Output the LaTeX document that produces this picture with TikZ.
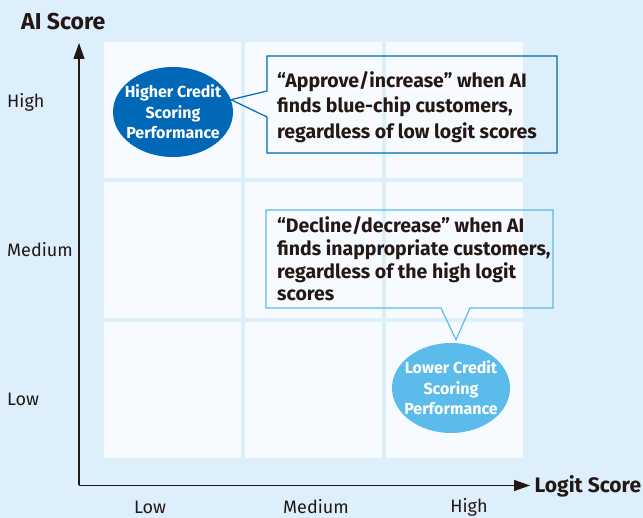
\documentclass[tikz,border=0pt]{standalone}
\usepackage{fontspec}
\setmainfont{Fira Sans}
\usetikzlibrary{arrows.meta,shapes.geometric,calc}
\definecolor{bgc}{RGB}{221,239,251}
\definecolor{cellc}{RGB}{247,251,255}
\definecolor{darkb}{RGB}{0,104,183}
\definecolor{lightb}{RGB}{91,188,235}
\definecolor{txt}{RGB}{35,24,21}
\tikzset{
  cell/.style={fill=cellc},
  axis/.style={draw=txt,line width=1.1pt,-{Triangle[length=16pt,width=11pt]}},
  tick/.style={text=txt,font=\fontsize{18}{20}\selectfont,inner sep=0pt},
  axtitle/.style={text=txt,font=\bfseries\fontsize{21}{24}\selectfont,inner sep=0pt},
  blob/.style={ellipse,minimum width=120pt,minimum height=90pt,inner sep=0pt},
  blobtext/.style={text=white,font=\bfseries\fontsize{16}{20.5}\selectfont,align=center,inner sep=0pt},
  note/.style={text=txt,font=\bfseries\fontsize{19.5}{25.7}\selectfont,align=left,inner sep=0pt,anchor=north west},
}
\begin{document}
\begin{tikzpicture}[x=1pt,y=-1pt]
\fill[bgc] (0,0) rectangle (643,518);
\useasboundingbox (0,0) rectangle (643,518);
% cells
\foreach \cx in {104,245,386}{
  \foreach \cy in {42,182,322}{
    \fill[cell] (\cx,\cy) rectangle ++(137,136.5);
  }
}
% axes
\coordinate (origin) at (79,485.5);
\coordinate (ytip) at (79,43);
\coordinate (xtip) at (530,485.5);
\draw[axis] (origin) -- (ytip);
\draw[axis] (origin) -- (xtip);
\node[axtitle,anchor=base west,font=\bfseries\fontsize{23}{24}\selectfont] (ai) at (21,30) {AI Score};
\node[axtitle,anchor=base west] (logit) at (534.5,493) {Logit Score};
% tick labels
\node[tick,anchor=west] (yh) at (7,102) {High};
\node[tick,anchor=west] (ym) at (7,250) {Medium};
\node[tick,anchor=west] (yl) at (7,399) {Low};
\node[tick] (xl) at (150,507) {Low};
\node[tick] (xm) at (316,507) {Medium};
\node[tick] (xh) at (469,507) {High};
% ellipses
\node[blob,fill=darkb] (hi) at (173,112) {};
\node[blobtext] (hit) at (hi) {Higher Credit\\Scoring\\Performance};
\node[blob,fill=lightb,minimum width=118pt] (lo) at (451,388) {};
\node[blobtext] (lot) at (lo) {Lower Credit\\Scoring\\Performance};
% callout 1
\coordinate (b1nw) at (267,56);
\coordinate (b1se) at (557,153);
\coordinate (t1) at (hi.12);
\draw[darkb,line width=1.2pt,line join=miter]
  (b1nw) -- (b1se |- b1nw) -- (b1se) -- (b1nw |- b1se) -- (267,117) -- (t1) -- (267,91) -- cycle;
\node[note] (n1) at (277,71) {“Approve/increase” when AI\\finds blue-chip customers,\\regardless of low logit scores};
% callout 2
\coordinate (b2nw) at (266,210);
\coordinate (b2se) at (553,308);
\coordinate (t2) at ($(lo.north)+(5,-3)$);
\draw[lightb,line width=1.2pt,line join=miter]
  (b2nw) -- (b2se |- b2nw) -- (b2se) -- (470,308) -- (t2) -- (441,308) -- (b2nw |- b2se) -- cycle;
\node[note,font=\bfseries\fontsize{19.5}{22.7}\selectfont] (n2) at (277,216.5) {“Decline/decrease” when AI\\finds inappropriate customers,\\regardless of the high logit\\scores};
\end{tikzpicture}
\end{document}
